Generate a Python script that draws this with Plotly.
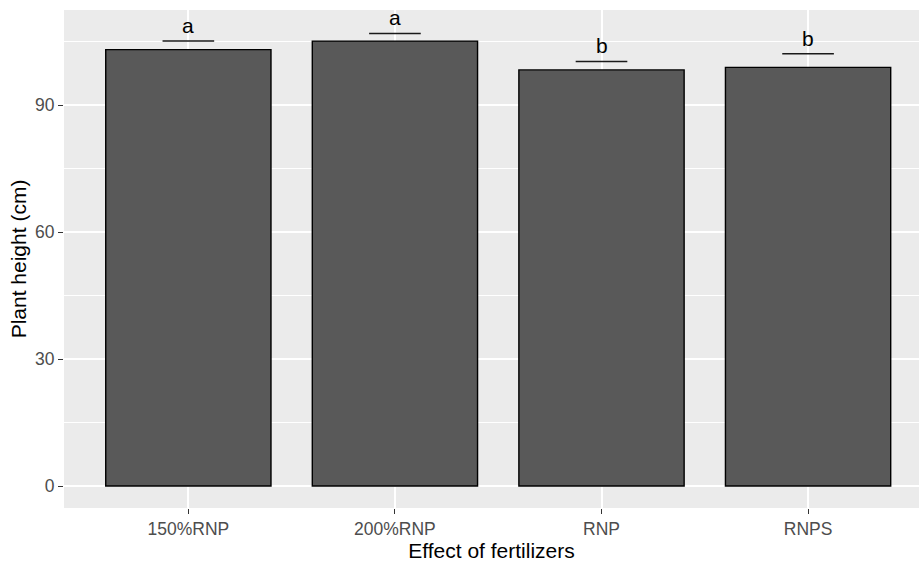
import plotly.graph_objects as go

categories = ["150%RNP", "200%RNP", "RNP", "RNPS"]
plant_height = [103.1, 105.1, 98.3, 98.9]
upper_limit = [105.1, 106.9, 100.3, 102.1]
letters = ["a", "a", "b", "b"]
y_ticks = [0, 30, 60, 90]
y_minor = [15, 45, 75, 105]

x_pos = list(range(len(categories)))
FONT = "Liberation Sans, Arial, sans-serif"

fig = go.Figure()
fig.add_trace(go.Bar(
    x=x_pos, y=plant_height, width=0.8,
    marker=dict(color="#595959", line=dict(color="#000000", width=1.4)),
    hoverinfo="y", showlegend=False,
))

ex, ey = [], []
for i, w in zip(x_pos, upper_limit):
    ex += [i - 0.125, i + 0.125, None]
    ey += [w, w, None]
fig.add_trace(go.Scatter(x=ex, y=ey, mode="lines",
                         line=dict(color="#1a1a1a", width=1.5),
                         hoverinfo="skip", showlegend=False))

for i, w, t in zip(x_pos, upper_limit, letters):
    fig.add_annotation(x=i, y=w, text=t, showarrow=False, yanchor="bottom",
                       yshift=2, font=dict(family=FONT, size=21, color="#000000"))

fig.update_layout(
    width=919, height=563,
    margin=dict(l=63.5, r=0, t=10, b=55),
    paper_bgcolor="#FFFFFF", plot_bgcolor="#EBEBEB",
    font=dict(family=FONT),
    bargap=0.2,
)
fig.update_xaxes(
    range=[-0.602, 3.537], tickvals=x_pos, ticktext=categories,
    automargin=False,
    showgrid=True, gridcolor="#FFFFFF", gridwidth=2,
    zeroline=False, showline=False,
    ticks="outside", ticklen=5, tickwidth=1.1, tickcolor="#333333",
    tickfont=dict(family=FONT, size=17.5, color="#4D4D4D"),
    title=dict(text="Effect of fertilizers", standoff=2,
               font=dict(family=FONT, size=21, color="#000000")),
)
fig.update_yaxes(
    range=[-5.197, 112.45], tickvals=y_ticks,
    automargin=False,
    showgrid=True, gridcolor="#FFFFFF", gridwidth=2,
    minor=dict(tickvals=y_minor, showgrid=True, gridcolor="#FFFFFF", gridwidth=1, ticks=""),
    zeroline=False, showline=False,
    ticks="outside", ticklen=5, tickwidth=1.1, tickcolor="#333333",
    tickfont=dict(family=FONT, size=17.5, color="#4D4D4D"),
    title=dict(text="Plant height (cm)", standoff=2,
               font=dict(family=FONT, size=21, color="#000000")),
)

fig.write_html("out.html", config={"displayModeBar": False},
               post_script="document.body.style.margin='0';document.body.style.padding='0';")
